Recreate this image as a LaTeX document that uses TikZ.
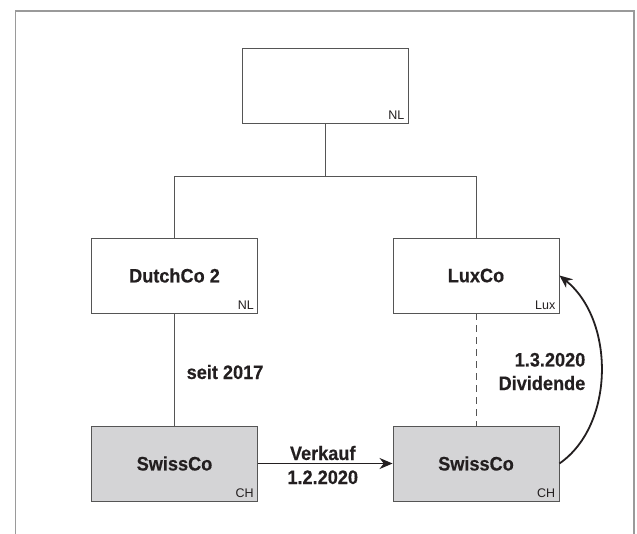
\documentclass[tikz,border=0pt]{standalone}
\usepackage{fontspec}
\setmainfont{Liberation Sans}
\newfontfamily\namefont[FakeStretch=0.93, BoldFeatures={FakeBold=0.4}]{Liberation Sans}
\usetikzlibrary{arrows.meta}
\definecolor{frameclr}{HTML}{9A9A9A}
\definecolor{lineclr}{HTML}{555555}
\definecolor{inkclr}{HTML}{231F20}
\definecolor{swissfill}{HTML}{D4D4D6}
\tikzset{
  company/.style={draw=lineclr, line width=0.9pt, rectangle, minimum width=166pt,
    minimum height=75pt, inner sep=0pt, text=inkclr,
    font=\namefont\fontsize{19.5}{24}\selectfont\bfseries},
  swissbox/.style={company, fill=swissfill},
  country/.style={anchor=base east, inner sep=0pt, text=inkclr,
    font=\fontsize{12.5}{14}\selectfont},
  tie/.style={draw=lineclr, line width=0.9pt},
  flow/.style={draw=inkclr, line width=1.8pt, -{Stealth[length=13pt,width=11pt]}},
  caption/.style={inner sep=0pt, text=inkclr,
    font=\namefont\fontsize{19.5}{23.5}\selectfont\bfseries}
}
\begin{document}
\begin{tikzpicture}[x=1pt, y=-1pt]
  \useasboundingbox (0,0) rectangle (637,534);
  % outer frame, open at the bottom
  \draw[frameclr, line width=1.3pt] (15.5,534) -- (15.5,11) -- (634,11) -- (634,534);

  % companies
  \node[company] (parent) at (325,85.5) {};
  \node[company] (dutch) at (174.5,275.5) {DutchCo 2};
  \node[company] (lux) at (476,275.5) {LuxCo};
  \node[swissbox] (swissA) at (174.5,463.5) {SwissCo};
  \node[swissbox] (swissB) at (476,463.5) {SwissCo};

  % country tags
  \node[country] (tagP) at ([xshift=-4pt,yshift=4pt]parent.south east) {NL};
  \node[country] (tagD) at ([xshift=-4pt,yshift=4pt]dutch.south east) {NL};
  \node[country] (tagL) at ([xshift=-4pt,yshift=4pt]lux.south east) {Lux};
  \node[country] (tagA) at ([xshift=-4pt,yshift=4pt]swissA.south east) {CH};
  \node[country] (tagB) at ([xshift=-4pt,yshift=4pt]swissB.south east) {CH};

  % holding structure
  \draw[tie] (parent.south) -- ++(0,53.5) coordinate (fork);
  \draw[tie] (dutch.north) |- (fork) -| (lux.north);
  \draw[tie] (dutch.south) -- (swissA.north);
  \draw[tie, dash pattern=on 7pt off 5pt] (lux.south) -- (swissB.north);

  % sale
  \draw[flow] (swissA.east) -- (swissB.west)
    node[midway, caption, anchor=base, xshift=-2.5pt, yshift=3.5pt] (saleA) {Verkauf}
    node[midway, caption, anchor=base, xshift=-2.5pt, yshift=-20.5pt] (saleB) {1.2.2020};

  % dividend
  \draw[flow] (swissB.east) .. controls (615,425) and (615,320) .. (lux.east);
  \node[caption, anchor=base east] (divA) at (585.5,366.5) {1.3.2020};
  \node[caption, anchor=base east] (divB) at (585.5,390) {Dividende};

  \node[caption, anchor=base west] (since) at (186.5,379) {seit 2017};
\end{tikzpicture}
\end{document}
